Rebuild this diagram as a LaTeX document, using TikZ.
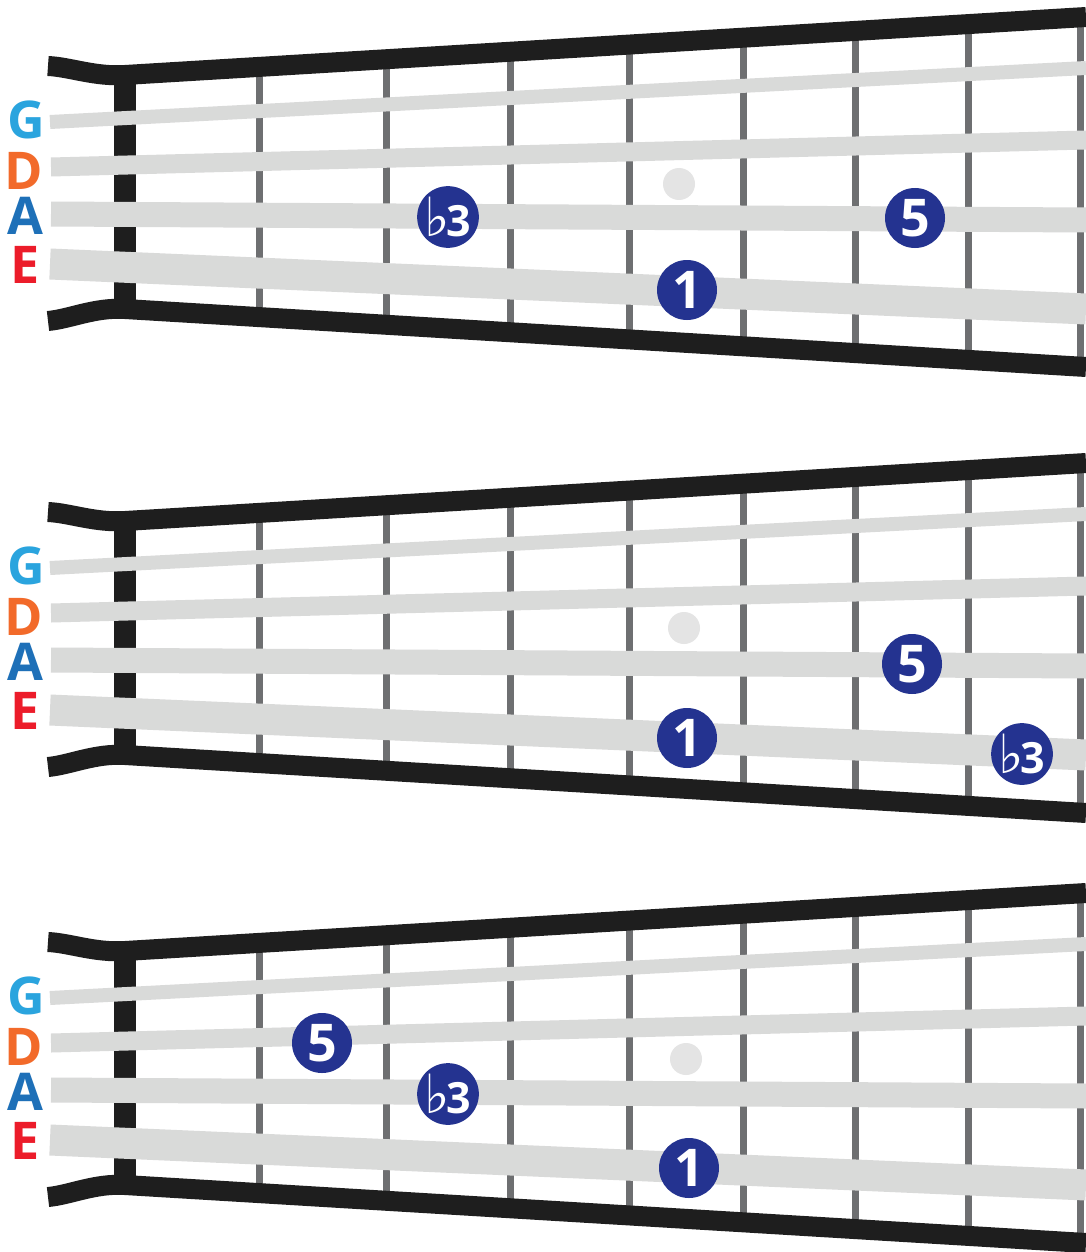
\documentclass[tikz,border=0pt]{standalone}
\usepackage{fontspec}
\setmainfont{Open Sans}
\newfontfamily\flatfont{DejaVu Sans}
\definecolor{strG}{HTML}{2AA4DE}
\definecolor{strD}{HTML}{F26A2A}
\definecolor{strA}{HTML}{1E70B8}
\definecolor{strE}{HTML}{EC1C2A}
\definecolor{navy}{HTML}{243390}
\definecolor{strgrey}{HTML}{D9DAD9}
\definecolor{fretgrey}{HTML}{6E6F71}
\definecolor{barblack}{HTML}{1E1E1E}
\definecolor{dotgrey}{HTML}{E4E4E4}
\tikzset{
  note/.style={circle, fill=navy, minimum size=60pt, inner sep=0pt, text=white,
    font=\fontsize{52}{52}\selectfont\bfseries},
  strlabel/.style={font=\fontsize{52}{52}\selectfont\bfseries, inner sep=0pt, anchor=center,
    text height=37pt, text depth=0pt},
  fretline/.style={line width=7pt, draw=fretgrey},
  barline/.style={line width=20pt, draw=barblack, line cap=butt},
  nutline/.style={line width=22pt, draw=barblack},
  stringline/.style={draw=strgrey, line cap=butt},
  inlay/.style={circle, fill=dotgrey, minimum size=32pt, inner sep=0pt},
}
\newcommand\flatthree{{\flatfont\fontsize{54}{54}\selectfont ♭}\kern-3pt{\fontsize{43}{43}\selectfont 3}}
\newcommand\myboard[2]{%
\begin{scope}[yshift=-#1pt]
  \foreach \fx in {259,386,510,629,743,855,968,1080}{
    \pgfmathsetmacro\yt{75-(\fx-125)/961*58}
    \pgfmathsetmacro\yb{309+(\fx-125)/961*58}
    \draw[fretline] (\fx,\yt) -- (\fx,\yb);
  }
  \draw[nutline] (125,75) -- (125,309);
  \draw[stringline, line width=14pt] (50,122) -- (1086,68);
  \draw[stringline, line width=19pt] (51,167) -- (1086,140);
  \draw[stringline, line width=25pt] (51,214) -- (1086,220);
  \draw[stringline, line width=31pt] (50,264) -- (1086,309);
  \draw[barline] (48,66) .. controls (70,67) and (95,77) .. (125,75) -- (1086,17);
  \draw[barline] (48,321) .. controls (70,319) and (95,307) .. (125,309) -- (1086,367);
  \node[strlabel, text=strG] (G#2) at (26,120) {G};
  \node[strlabel, text=strD] (D#2) at (24,171) {D};
  \node[strlabel, text=strA] (A#2) at (25,216) {A};
  \node[strlabel, text=strE] (E#2) at (25,265) {E};
\end{scope}}
\begin{document}
\begin{tikzpicture}[x=1pt,y=-1pt]
  \useasboundingbox (0,0) rectangle (1086,1252);
  \fill[white] (0,0) rectangle (1086,1252);
  % board 1
  \myboard{0}{a}
  \node[inlay] (dota) at (679,184) {};
  \node[note] (b3a) at (448,217) {\flatthree};
  \node[note] (fivea) at (915,218) {5};
  \node[note] (onea) at (687,290) {1};
  % board 2
  \myboard{446}{b}
  \begin{scope}[yshift=-446pt]
    \node[inlay] (dotb) at (684,182) {};
    \node[note] (fiveb) at (912,218) {5};
    \node[note] (oneb) at (687,292) {1};
    \node[note] (b3b) at (1022,308) {\flatthree};
  \end{scope}
  % board 3
  \myboard{876}{c}
  \begin{scope}[yshift=-876pt]
    \node[inlay] (dotc) at (686,183) {};
    \node[note] (fivec) at (322,167) {5};
    \node[note] (b3c) at (448,218) {\flatthree};
    \node[note] (onec) at (689,292) {1};
  \end{scope}
\end{tikzpicture}
\end{document}
